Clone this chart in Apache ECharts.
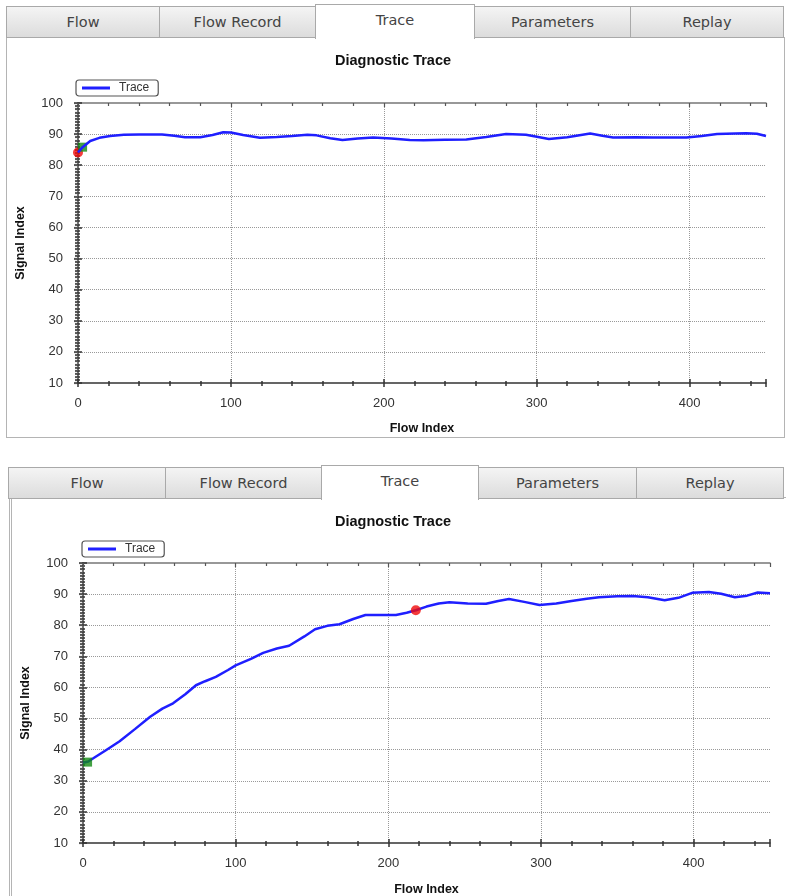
<!DOCTYPE html>
<html>
<head>
<meta charset="utf-8">
<script src="https://cdn.jsdelivr.net/npm/echarts@6/dist/echarts.min.js"></script>
<style>
html,body{margin:0;padding:0;background:#fff;width:786px;height:896px;overflow:hidden;}
.panel{position:absolute;border:1px solid #b4b4b4;background:#fff;}
.tab{position:absolute;box-sizing:border-box;border:1px solid #a9a9a9;background:linear-gradient(#f4f4f4,#dcdcdc);
 font-family:"DejaVu Sans",sans-serif;font-size:14.5px;color:#444;text-align:center;}
.tab.active{background:#fff;border-bottom:none;z-index:3;}
.chart{position:absolute;left:0;width:786px;z-index:2;}
</style>
</head>
<body>
<div class="panel" style="left:6px;top:37px;width:777px;height:399px;"></div>
<div class="tab" style="left:6px;top:6px;width:154px;height:32px;line-height:31px;">Flow</div>
<div class="tab" style="left:159px;top:6px;width:157px;height:32px;line-height:31px;">Flow Record</div>
<div class="tab active" style="left:315px;top:4px;width:160px;height:35px;line-height:30px;">Trace</div>
<div class="tab" style="left:474px;top:6px;width:157px;height:32px;line-height:31px;">Parameters</div>
<div class="tab" style="left:630px;top:6px;width:154px;height:32px;line-height:31px;">Replay</div>

<div class="panel" style="left:9px;top:497px;width:774px;height:410px;border-left:3px double #b4b4b4;"></div>
<div class="tab" style="left:8px;top:467px;width:158px;height:32px;line-height:31px;">Flow</div>
<div class="tab" style="left:165px;top:467px;width:157px;height:32px;line-height:31px;">Flow Record</div>
<div class="tab active" style="left:321px;top:465px;width:158px;height:35px;line-height:30px;">Trace</div>
<div class="tab" style="left:478px;top:467px;width:159px;height:32px;line-height:31px;">Parameters</div>
<div class="tab" style="left:636px;top:467px;width:148px;height:32px;line-height:31px;">Replay</div>

<div id="c1" class="chart" style="top:0px;height:440px;"></div>
<div id="c2" class="chart" style="top:460px;height:436px;"></div>
<script>
// ---- data ----
const chartTitle = "Diagnostic Trace";
const seriesName = "Trace";
const xAxisName = "Flow Index";
const yAxisName = "Signal Index";
const xTicks = [0, 100, 200, 300, 400];
const yTicks = [10, 20, 30, 40, 50, 60, 70, 80, 90, 100];

const topX = [0,3,8,14,21,30,40,55,63,70,80,88,95,100,108,119,130,140,150,156,165,173,183,193,205,217,226,240,254,267,280,293,301,308,320,335,343,350,365,376,398,408,418,430,437,444,450];
const topY = [84.1,85.8,87.8,88.8,89.4,89.8,89.9,89.9,89.5,89.0,89.0,89.7,90.6,90.5,89.7,88.8,89.1,89.4,89.8,89.6,88.7,88.1,88.6,88.9,88.6,88.1,88.0,88.2,88.3,89.1,90.0,89.8,89.1,88.4,89.0,90.2,89.5,88.9,89.0,88.9,88.9,89.4,90.0,90.2,90.3,90.1,89.4];
const topRed = [[0, 84.1]];
const topGreen = [[3, 85.8]];

const botX = [0,3.5,7,15,24,34,44,52,59,67,74,80,87,95,100,110,118,127,135,145,152,160,168,177,185,195,205,212,218,225,233,240,252,264,272,279,289,299,310,320,330,338,350,360,370,381,390,399,410,418,427,435,442,450];
const botY = [35.8,36.2,37.3,39.8,42.7,46.6,50.6,53.2,54.9,57.8,60.7,62.0,63.4,65.6,67.1,69.2,71.1,72.5,73.4,76.4,78.7,79.8,80.3,82.0,83.3,83.3,83.3,84.0,84.8,86.0,87.0,87.4,87.0,86.9,87.8,88.4,87.5,86.5,87.0,87.8,88.5,89.0,89.3,89.4,89.0,88.0,88.8,90.4,90.7,90.1,89.0,89.5,90.5,90.3];
const botRed = [[218, 84.8]];
const botGreen = [[3, 36.0]];

// ---- build ----
const X_MIN = 0, X_MAX = 450, Y_MIN = 10, Y_MAX = 100;
const labelFont = {fontFamily: 'Arial, "Liberation Sans", sans-serif', fontSize: 13, color: '#333'};

function xAxes(nameGap){
  const base = {type:'value', min:X_MIN, max:X_MAX, interval: xTicks[1]-xTicks[0]};
  return [
    Object.assign({}, base, {position:'bottom', name:xAxisName, nameLocation:'middle', nameGap:nameGap,
      nameTextStyle:{fontFamily:'Arial, "Liberation Sans", sans-serif', fontWeight:'bold', fontSize:12.5, color:'#111'},
      axisLine:{show:true, lineStyle:{color:'#333', width:1.5}},
      axisTick:{show:true, inside:false, length:4, lineStyle:{color:'#333', width:1.5}},
      minorTick:{show:true, splitNumber:5, length:3, lineStyle:{color:'#333', width:1.5}},
      axisLabel:Object.assign({margin:14, showMaxLabel:false}, labelFont),
      splitLine:{show:true, showMinLine:false, showMaxLine:false, lineStyle:{type:'dotted', color:'#999', width:1}}}),
    Object.assign({}, base, {position:'bottom',
      axisLine:{show:false}, axisTick:{show:true, inside:true, length:4, lineStyle:{color:'#333', width:1.5}},
      minorTick:{show:true, splitNumber:5, length:2, lineStyle:{color:'#333', width:1.5}},
      axisLabel:{show:false}, splitLine:{show:false}}),
    Object.assign({}, base, {position:'top',
      axisLine:{show:true, lineStyle:{color:'#777', width:1.5}},
      axisTick:{show:true, inside:true, length:4, lineStyle:{color:'#555', width:1.2}},
      minorTick:{show:true, splitNumber:5, length:3, lineStyle:{color:'#555', width:1.2}},
      axisLabel:{show:false}, splitLine:{show:false}})
  ];
}
function yAxes(nameGap){
  const base = {type:'value', min:Y_MIN, max:Y_MAX, interval: yTicks[1]-yTicks[0]};
  return [
    Object.assign({}, base, {position:'left', name:yAxisName, nameLocation:'middle', nameGap:nameGap,
      nameTextStyle:{fontFamily:'Arial, "Liberation Sans", sans-serif', fontWeight:'bold', fontSize:12.5, color:'#111'},
      axisLine:{show:true, lineStyle:{color:'#333', width:1.5}},
      axisTick:{show:true, inside:false, length:4, lineStyle:{color:'#333', width:1.5}},
      minorTick:{show:true, splitNumber:10, length:3, lineStyle:{color:'#333', width:1.5}},
      axisLabel:Object.assign({margin:15}, labelFont),
      splitLine:{show:true, showMinLine:false, showMaxLine:false, lineStyle:{type:'dotted', color:'#999', width:1}}}),
    Object.assign({}, base, {position:'left',
      axisLine:{show:false}, axisTick:{show:true, inside:true, length:4, lineStyle:{color:'#333', width:1.5}},
      minorTick:{show:true, splitNumber:10, length:2, lineStyle:{color:'#333', width:1.5}},
      axisLabel:{show:false}, splitLine:{show:false}}),
    Object.assign({}, base, {position:'right',
      axisLine:{show:true, lineStyle:{color:'#777', width:1.5}},
      axisTick:{show:true, inside:true, length:4, lineStyle:{color:'#555', width:1.2}},
      minorTick:{show:true, splitNumber:10, length:3, lineStyle:{color:'#555', width:1.2}},
      axisLabel:{show:false}, splitLine:{show:false}})
  ];
}
function pairs(xs, ys){ return xs.map((x,i)=>[x, ys[i]]); }

function buildOption(cfg){
  return {
    animation:false,
    title:{text:chartTitle, left:'center', top:cfg.titleTop,
      textStyle:{fontFamily:'Arial, "Liberation Sans", sans-serif', fontSize:14.5, fontWeight:'bold', color:'#111'}},
    legend:{data:[seriesName], left:cfg.legendLeft, top:cfg.legendTop, orient:'horizontal',
      icon:'rect', borderColor:'#555', borderWidth:1.2, borderRadius:3, padding:[2,9,2,6],
      itemWidth:28, itemHeight:3, itemGap:4,
      textStyle:{fontFamily:'Arial, "Liberation Sans", sans-serif', fontSize:12, color:'#333', padding:[0,0,0,4]}},
    grid:Object.assign({outerBoundsMode:'none', containLabel:false}, cfg.grid),
    xAxis:xAxes(cfg.xNameGap),
    yAxis:yAxes(cfg.yNameGap),
    series:[
      {name:seriesName, type:'line', xAxisIndex:0, yAxisIndex:0, data:pairs(cfg.x, cfg.y),
        showSymbol:false, symbol:'none', lineStyle:{color:'#1f1fff', width:2.5}, itemStyle:{color:'#1f1fff'}, z:3},
      {name:'green', type:'scatter', xAxisIndex:0, yAxisIndex:0, data:cfg.green, symbol:'rect', symbolSize:9,
        itemStyle:{color:'#138a13'}, z:cfg.greenZ},
      {name:'red', type:'scatter', xAxisIndex:0, yAxisIndex:0, data:cfg.red, symbol:'circle', symbolSize:10,
        itemStyle:{color:'#f00a0a'}, z:cfg.redZ}
    ]
  };
}

const c1 = echarts.init(document.getElementById('c1'), null, {renderer:'canvas'});
c1.setOption(buildOption({titleTop:48, legendLeft:76, legendTop:80,
  grid:{left:78, right:20, top:103, bottom:57}, xNameGap:39, yNameGap:51,
  x:topX, y:topY, red:topRed, green:topGreen, greenZ:2, redZ:1}));

const c2 = echarts.init(document.getElementById('c2'), null, {renderer:'canvas'});
c2.setOption(buildOption({titleTop:49, legendLeft:82, legendTop:81,
  grid:{left:83, right:16, top:103, bottom:53}, xNameGap:40, yNameGap:51,
  x:botX, y:botY, red:botRed, green:botGreen, greenZ:4, redZ:4}));
</script>
</body>
</html>
